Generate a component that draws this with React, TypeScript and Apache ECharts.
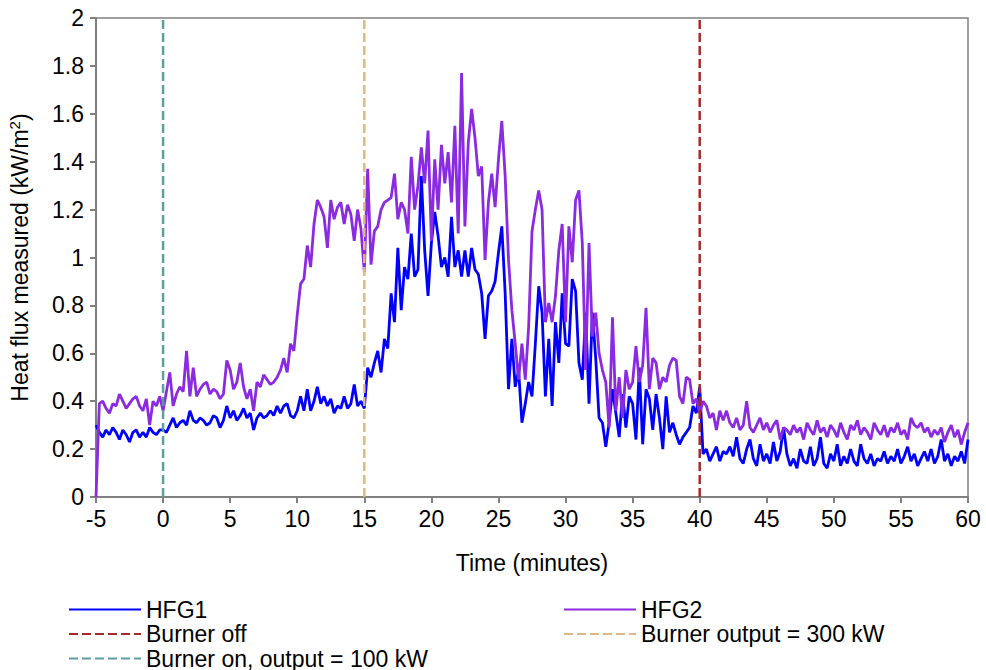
import React, { useEffect, useRef } from "react";
import * as echarts from "echarts";

// Time axis of the samples (minutes)
const T_START = -5;
const T_STEP = 0.25;

// Axis ranges / ticks
const X_MIN = -5;
const X_MAX = 60;
const X_INTERVAL = 5;
const Y_MIN = 0;
const Y_MAX = 2;
const Y_INTERVAL = 0.2;

// Event times (minutes)
const BURNER_ON = 0;
const BURNER_300 = 15;
const BURNER_OFF = 40;

// HFG1 heat flux (kW/m2), one value every 0.25 min from -5 to 60
const hfg1: number[] = [
  0.30, 0.27, 0.25, 0.28, 0.26, 0.29, 0.27, 0.24, 0.28, 0.26, 0.23, 0.27, 0.28, 0.25, 0.27, 0.25, 0.29, 0.27, 0.26, 0.28,
  0.28, 0.27, 0.30, 0.33, 0.29, 0.31, 0.32, 0.30, 0.36, 0.32, 0.31, 0.33, 0.32, 0.30, 0.31, 0.34, 0.33, 0.29, 0.32, 0.38,
  0.33, 0.36, 0.32, 0.34, 0.37, 0.33, 0.35, 0.28, 0.33, 0.35, 0.33, 0.34, 0.36, 0.34, 0.38, 0.35, 0.38, 0.39, 0.34, 0.33,
  0.36, 0.42, 0.36, 0.45, 0.36, 0.40, 0.46, 0.39, 0.42, 0.38, 0.41, 0.35, 0.38, 0.37, 0.42, 0.37, 0.39, 0.47, 0.38, 0.40,
  0.37, 0.54, 0.50, 0.56, 0.61, 0.52, 0.66, 0.62, 0.85, 0.73, 1.04, 0.78, 0.96, 0.91, 1.10, 0.92, 0.95, 1.34, 1.03, 0.84,
  1.06, 1.19, 1.09, 0.96, 1.00, 0.92, 1.17, 0.96, 1.03, 0.92, 1.03, 0.92, 1.04, 0.95, 0.93, 0.85, 0.66, 0.84, 0.86, 0.90,
  1.02, 1.13, 0.85, 0.45, 0.66, 0.46, 0.53, 0.31, 0.39, 0.48, 0.42, 0.64, 0.88, 0.77, 0.42, 0.66, 0.38, 0.73, 0.56, 0.85,
  0.64, 0.63, 0.91, 0.86, 0.56, 0.49, 0.77, 0.39, 0.77, 0.58, 0.33, 0.31, 0.21, 0.31, 0.45, 0.35, 0.25, 0.43, 0.29, 0.42,
  0.39, 0.24, 0.54, 0.22, 0.45, 0.41, 0.28, 0.43, 0.33, 0.20, 0.42, 0.27, 0.31, 0.26, 0.22, 0.25, 0.27, 0.29, 0.38, 0.35,
  0.46, 0.18, 0.20, 0.15, 0.18, 0.21, 0.15, 0.19, 0.18, 0.21, 0.17, 0.25, 0.16, 0.14, 0.20, 0.24, 0.16, 0.13, 0.22, 0.15,
  0.18, 0.14, 0.23, 0.15, 0.19, 0.29, 0.18, 0.13, 0.16, 0.12, 0.20, 0.15, 0.14, 0.21, 0.13, 0.16, 0.25, 0.14, 0.12, 0.18,
  0.15, 0.22, 0.13, 0.17, 0.14, 0.20, 0.15, 0.13, 0.22, 0.16, 0.14, 0.18, 0.13, 0.16, 0.15, 0.19, 0.14, 0.17, 0.15, 0.20,
  0.14, 0.17, 0.21, 0.15, 0.18, 0.13, 0.16, 0.19, 0.15, 0.20, 0.14, 0.17, 0.24, 0.15, 0.18, 0.13, 0.17, 0.15, 0.19, 0.14,
  0.24,
];

// HFG2 heat flux (kW/m2), same time base
const hfg2: number[] = [
  0.00, 0.39, 0.40, 0.37, 0.35, 0.39, 0.38, 0.43, 0.40, 0.37, 0.39, 0.41, 0.42, 0.38, 0.36, 0.41, 0.30, 0.40, 0.38, 0.42,
  0.36, 0.44, 0.52, 0.38, 0.43, 0.46, 0.44, 0.61, 0.42, 0.54, 0.42, 0.45, 0.47, 0.48, 0.43, 0.45, 0.44, 0.41, 0.43, 0.57,
  0.53, 0.45, 0.48, 0.56, 0.46, 0.41, 0.45, 0.36, 0.48, 0.46, 0.51, 0.49, 0.47, 0.48, 0.50, 0.53, 0.58, 0.52, 0.64, 0.61,
  0.76, 0.89, 0.91, 1.05, 0.96, 1.14, 1.24, 1.21, 1.17, 1.04, 1.24, 1.16, 1.21, 1.23, 1.14, 1.22, 1.18, 1.07, 1.20, 1.12,
  0.94, 1.37, 0.97, 1.11, 1.13, 1.20, 1.23, 1.24, 1.25, 1.35, 1.16, 1.23, 1.20, 1.10, 1.42, 1.20, 1.30, 1.46, 1.31, 1.53,
  1.07, 1.41, 1.20, 1.47, 1.31, 1.44, 1.23, 1.55, 1.10, 1.77, 1.13, 1.48, 1.62, 1.50, 1.34, 1.38, 0.99, 1.23, 1.35, 1.21,
  1.41, 1.57, 1.34, 0.99, 0.78, 0.64, 0.49, 0.64, 0.49, 0.71, 1.11, 1.20, 1.28, 1.20, 0.73, 0.81, 0.73, 0.84, 1.03, 1.14,
  0.73, 1.13, 0.98, 1.24, 1.28, 1.06, 0.53, 1.06, 0.67, 0.77, 0.60, 0.53, 0.48, 0.29, 0.75, 0.36, 0.50, 0.33, 0.53, 0.45,
  0.48, 0.63, 0.48, 0.55, 0.79, 0.45, 0.58, 0.56, 0.45, 0.50, 0.48, 0.55, 0.58, 0.57, 0.42, 0.39, 0.50, 0.49, 0.39, 0.41,
  0.35, 0.40, 0.38, 0.33, 0.35, 0.28, 0.36, 0.32, 0.36, 0.31, 0.29, 0.33, 0.28, 0.30, 0.40, 0.29, 0.27, 0.30, 0.33, 0.28,
  0.31, 0.27, 0.30, 0.32, 0.24, 0.29, 0.28, 0.26, 0.30, 0.27, 0.29, 0.24, 0.31, 0.28, 0.26, 0.32, 0.27, 0.29, 0.25, 0.30,
  0.28, 0.25, 0.31, 0.27, 0.24, 0.30, 0.28, 0.32, 0.26, 0.29, 0.27, 0.24, 0.31, 0.28, 0.26, 0.30, 0.25, 0.29, 0.27, 0.31,
  0.26, 0.28, 0.24, 0.33, 0.30, 0.29, 0.31, 0.27, 0.29, 0.25, 0.28, 0.26, 0.29, 0.23, 0.27, 0.30, 0.25, 0.28, 0.22, 0.27,
  0.31,
];

const SERIES_NAMES = {
  hfg1: "HFG1",
  hfg2: "HFG2",
  off: "Burner off",
  out300: "Burner output = 300 kW",
  on: "Burner on, output = 100 kW",
};

const FONT = "'Liberation Sans', Arial, sans-serif";
const FONT_SIZE = 23;
const AXIS_GRAY = "#808080";

export default function App() {
  const ref = useRef<HTMLDivElement>(null);

  useEffect(() => {
    if (!ref.current) return;
    const chart = echarts.init(ref.current, null, { renderer: "svg" });

    const toPairs = (vals: number[]) => vals.map((v, i) => [T_START + i * T_STEP, v]);
    const vline = (t: number) => [
      [t, Y_MIN],
      [t, Y_MAX],
    ];

    const lineSeries = (name: string, data: number[][], color: string, width: number, dash?: number[]) => ({
      name,
      type: "line",
      data,
      symbol: "none",
      showSymbol: false,
      silent: true,
      lineStyle: { color, width, type: dash ? dash : "solid" },
      itemStyle: { color },
    });

    const legendCommon = {
      orient: "vertical",
      top: 598,
      padding: 0,
      itemWidth: 72,
      itemHeight: 12,
      itemGap: 1.5,
      selectedMode: false,
      itemStyle: { opacity: 0 },
      textStyle: { color: "#000", fontSize: FONT_SIZE, lineHeight: 22, fontFamily: FONT },
    };

    chart.setOption({
      animation: false,
      backgroundColor: "#ffffff",
      textStyle: { fontFamily: FONT },
      grid: {
        left: 96,
        right: 18,
        top: 18,
        bottom: 173,
        show: true,
        borderColor: AXIS_GRAY,
        borderWidth: 1.5,
        containLabel: false,
        outerBoundsMode: "none",
      },
      xAxis: {
        type: "value",
        min: X_MIN,
        max: X_MAX,
        interval: X_INTERVAL,
        name: "Time (minutes)",
        nameLocation: "middle",
        nameGap: 54,
        nameTextStyle: { color: "#000", fontSize: FONT_SIZE, fontFamily: FONT },
        axisLine: { show: true, onZero: false, lineStyle: { color: AXIS_GRAY, width: 2 } },
        axisTick: { show: true, length: 6, lineStyle: { color: AXIS_GRAY, width: 2 } },
        axisLabel: { color: "#000", fontSize: FONT_SIZE, margin: 10, fontFamily: FONT },
        splitLine: { show: false },
      },
      yAxis: {
        type: "value",
        min: Y_MIN,
        max: Y_MAX,
        interval: Y_INTERVAL,
        name: "Heat flux measured (kW/m{sup|2})",
        nameLocation: "middle",
        nameGap: 64,
        nameTextStyle: {
          color: "#000",
          fontSize: FONT_SIZE,
          fontFamily: FONT,
          rich: {
            sup: { fontSize: 15, color: "#000", fontFamily: FONT, padding: [0, 0, 10, 0] },
          },
        },
        axisLine: { show: true, onZero: false, lineStyle: { color: AXIS_GRAY, width: 2 } },
        axisTick: { show: true, length: 6, lineStyle: { color: AXIS_GRAY, width: 2 } },
        axisLabel: { color: "#000", fontSize: FONT_SIZE, margin: 12, fontFamily: FONT },
        splitLine: { show: false },
      },
      legend: [
        {
          ...legendCommon,
          data: [SERIES_NAMES.hfg1, SERIES_NAMES.off, SERIES_NAMES.on],
          left: 68,
        },
        {
          ...legendCommon,
          data: [SERIES_NAMES.hfg2, SERIES_NAMES.out300],
          left: 563,
        },
      ],
      series: [
        lineSeries(SERIES_NAMES.hfg1, toPairs(hfg1), "#0000FF", 2.8),
        lineSeries(SERIES_NAMES.hfg2, toPairs(hfg2), "#8A2BE2", 2.8),
        lineSeries(SERIES_NAMES.off, vline(BURNER_OFF), "#A52A2A", 2.5, [9, 4]),
        lineSeries(SERIES_NAMES.out300, vline(BURNER_300), "#DEB887", 2.5, [9, 4]),
        lineSeries(SERIES_NAMES.on, vline(BURNER_ON), "#5F9EA0", 2.5, [9, 4]),
      ],
    });

    return () => chart.dispose();
  }, []);

  return (
    <div
      ref={ref}
      style={{ position: "absolute", left: 0, top: 0, width: 986, height: 670, background: "#fff" }}
    />
  );
}
